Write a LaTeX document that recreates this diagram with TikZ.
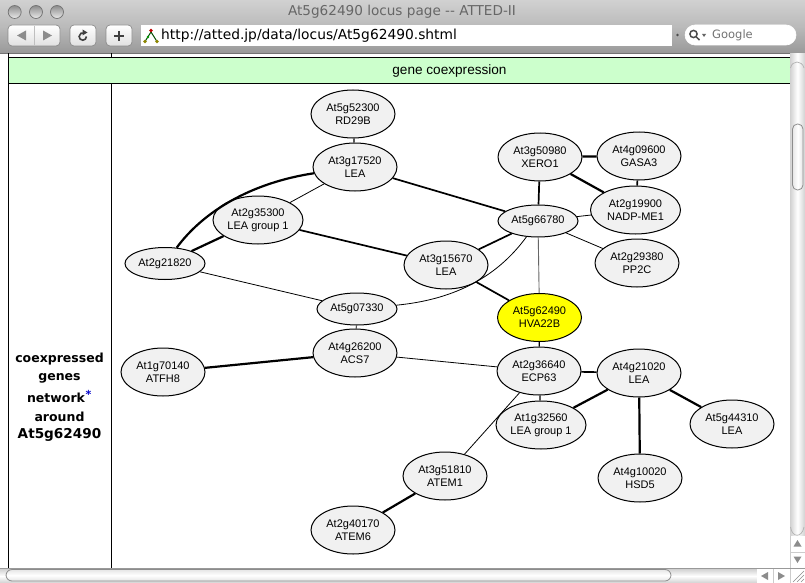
\documentclass[tikz,border=0pt]{standalone}
\usepackage{fontspec}
\setmainfont{Liberation Sans}
\newfontfamily\uifont{DejaVu Sans}
\usetikzlibrary{shapes.geometric,calc}
\definecolor{nodegray}{HTML}{F1F1F1}
\definecolor{hl}{HTML}{FFFF00}
\definecolor{greenrow}{HTML}{CCFFCC}
\tikzset{
  x=1pt,y=-1pt,
  gene/.style={ellipse,draw=black,line width=1pt,fill=nodegray,minimum width=84pt,minimum height=48pt,inner sep=0pt,align=center,font=\fontsize{11}{13}\selectfont},
  small/.style={gene,minimum width=80pt,minimum height=32pt},
  wide/.style={gene,minimum width=90pt},
  focus/.style={gene,fill=hl},
  e0/.style={line width=0.8pt},
  e1/.style={line width=1.2pt},
  e2/.style={line width=1.7pt},
  e3/.style={line width=2.2pt},
  tbl/.style={line width=1pt,draw=black},
  btn/.style={draw=black!45,line width=0.7pt,rounded corners=4pt,top color=white,bottom color=black!12},
  chromebar/.style={top color=black!18,bottom color=black!40,middle color=black!27},
  light/.style={circle,minimum size=13pt,inner sep=0pt,draw=black!55,line width=0.7pt,top color=black!45,bottom color=black!8},
  tri/.style={fill=black!45,draw=none},
  track/.style={left color=black!18,right color=black!18,middle color=white,draw=none},
  htrack/.style={top color=black!18,bottom color=black!18,middle color=white,draw=none},
  thumb/.style={draw=black!45,line width=0.8pt,rounded corners=5pt,left color=black!10,right color=black!10,middle color=white},
  hthumb/.style={draw=black!45,line width=0.8pt,rounded corners=6pt,top color=black!10,bottom color=black!10,middle color=white},
  lefttext/.style={font=\uifont\fontsize{12.5}{14}\selectfont\bfseries,inner sep=0pt}
}
\begin{document}
\begin{tikzpicture}
\useasboundingbox (0,0) rectangle (805,583);
\fill[white] (0,0) rectangle (805,583);
% window chrome
\path[chromebar] (0,0) rectangle (805,53);
\draw[black!55,line width=0.7pt] (0,53.3) -- (805,53.3);
\node[light] (l1) at (14.7,12) {};
\node[light] (l2) at (36,12) {};
\node[light] (l3) at (57,12) {};
\node[font=\uifont\fontsize{13.6}{15}\selectfont,text=black!60] (title) at (402,11.5) {At5g62490 locus page -- ATTED-II};
\path[btn] (8,25) rectangle (60,46);
\draw[black!25,line width=0.5pt] (34,26) -- (34,45);
\fill[tri] (17,35.5) -- (26,30.5) -- (26,40.5) -- cycle;
\fill[tri] (52,35.5) -- (43,30.5) -- (43,40.5) -- cycle;
\path[btn] (70,25) rectangle (96,46);
\draw[black!75,line width=1.6pt] (86.5,36.5) arc[start angle=0,end angle=290,radius=3.7];
\fill[black!75] (82.5,29.5) -- (87.5,32.5) -- (82.5,35.5) -- cycle;
\path[btn] (106,25) rectangle (132,46);
\draw[black!75,line width=1.7pt] (119,31) -- (119,41) (114,36) -- (124,36);
\fill[white] (141,25) rectangle (672,46);
\draw[black!70!green,line width=1pt] (145,41.5) -- (151,32) -- (157,41.5);
\fill[red!75!black] (151,30.5) circle[radius=1.8];
\fill[green!60!black] (148,37) circle[radius=1.4];
\fill[olive] (145,41.5) circle[radius=1.8];
\fill[olive] (157,41.5) circle[radius=1.8];
\node[anchor=west,font=\uifont\fontsize{13.8}{15}\selectfont,inner sep=0pt] (url) at (161,36) {http://atted.jp/data/locus/At5g62490.shtml};
\fill[black!70] (677.5,35) circle[radius=1.3];
\draw[white,line width=0.6pt,fill=white,rounded corners=10pt] (685,25) rectangle (796,45);
\draw[black!70,line width=1.5pt] (693.5,34) circle[radius=3.6] (696,36.7) -- (699.5,40);
\fill[black!60] (702,34) -- (706,34) -- (704,37) -- cycle;
\node[anchor=west,font=\uifont\fontsize{11.5}{13}\selectfont,text=black!55,inner sep=0pt] (search) at (712,35.5) {Google};
% table
\fill[greenrow] (8,57.5) rectangle (790,83);
\draw[tbl] (8,53.5) -- (8,568) (111,53.5) -- (111,57.5) (111,83.5) -- (111,568);
\draw[tbl] (8,57.5) -- (790,57.5) (8,83.5) -- (790,83.5);
\node[font=\fontsize{13.6}{15}\selectfont] (head) at (449.5,71) {gene coexpression};
\node[lefttext] (t1) at (59.5,359.5) {coexpressed};
\node[lefttext] (t2) at (59.5,378) {genes};
\node[lefttext] (t3) at (56,398) {network};
\node[font=\uifont\fontsize{11}{12}\selectfont\bfseries,text=blue!80!black,inner sep=0pt] (star) at (88.5,394) {*};
\node[lefttext] (t4) at (59.5,416.5) {around};
\node[lefttext,font=\uifont\fontsize{13.6}{15}\selectfont\bfseries] (t5) at (59.5,434.5) {At5g62490};
% nodes
\node[gene] (rd) at (353,114) {At5g52300\\RD29B};
\node[gene] (lea1) at (355,167) {At3g17520\\LEA};
\node[wide] (lg1) at (258,220) {At2g35300\\LEA group 1};
\node[small] (n218) at (165,263.5) {At2g21820};
\node[gene] (lea2) at (446,265) {At3g15670\\LEA};
\node[small] (n507) at (357,309) {At5g07330};
\node[gene] (acs) at (355,353) {At4g26200\\ACS7};
\node[gene] (atfh) at (163,372) {At1g70140\\ATFH8};
\node[gene] (xero) at (540,157) {At3g50980\\XERO1};
\node[gene] (gasa) at (639,156) {At4g09600\\GASA3};
\node[wide] (nadp) at (635.5,210) {At2g19900\\NADP-ME1};
\node[small] (n566) at (538,221) {At5g66780};
\node[gene] (pp2c) at (637,263) {At2g29380\\PP2C};
\node[focus] (hva) at (539.5,317.5) {At5g62490\\HVA22B};
\node[gene] (ecp) at (539,371) {At2g36640\\ECP63};
\node[gene] (lea3) at (639,373) {At4g21020\\LEA};
\node[wide] (lg2) at (541,425) {At1g32560\\LEA group 1};
\node[gene] (lea4) at (732,424) {At5g44310\\LEA};
\node[gene] (hsd) at (640,478) {At4g10020\\HSD5};
\node[gene] (atem1) at (445,476) {At3g51810\\ATEM1};
\node[gene] (atem6) at (353,530) {At2g40170\\ATEM6};
% edges
\draw[e1] (rd) -- (lea1);
\draw[e0] (lea1) -- (lg1);
\draw[e2] (lea1) -- (n566);
\draw[e3] (n218) .. controls (203,212) and (250,183) .. (lea1);
\draw[e3] (lg1) -- (n218);
\draw[e2] (lg1) -- (lea2);
\draw[e0] (n218) -- (n507);
\draw[e0] (n507) -- (acs);
\draw[e0] (n507) .. controls (450,300) and (495,280) .. (n566);
\draw[e2] (lea2) -- (n566);
\draw[e2] (lea2) -- (hva);
\draw[line width=0.9pt,black!60] (n566) -- (hva);
\draw[e2] (xero) -- (n566);
\draw[e3] (xero) -- (gasa);
\draw[e3] (xero) -- (nadp);
\draw[e2] (gasa) -- (nadp);
\draw[e0] (n566) -- (nadp);
\draw[e0] (n566) -- (pp2c);
\draw[e1] (hva) -- (ecp);
\draw[e3] (acs) -- (atfh);
\draw[e0] (acs) -- (ecp);
\draw[e2] (ecp) -- (lea3);
\draw[e1] (ecp) -- (lg2);
\draw[e0] (ecp) -- (atem1);
\draw[e3] (lea3) -- (lg2);
\draw[e3] (lea3) -- (lea4);
\draw[e3] (lea3) -- (hsd);
\draw[e3] (atem1) -- (atem6);
% vertical scrollbar
\path[track] (790,54) rectangle (805,568);
\path[thumb] (792.5,124) rectangle (803,190);
\draw[black!30,line width=0.7pt] (790.5,68) .. controls (792,60) and (802,60) .. (804,68);
\draw[black!30,line width=0.7pt] (790.5,527) .. controls (792,538) and (802,538) .. (804,527);
\fill[white] (790,536) rectangle (805,568);
\draw[black!20,line width=0.5pt] (790,552) -- (805,552) (790,536) -- (790,568);
\fill[tri] (797.5,540) -- (793.5,546.5) -- (801.5,546.5) -- cycle;
\fill[tri] (797.5,563) -- (793.5,556.5) -- (801.5,556.5) -- cycle;
% horizontal scrollbar
\path[htrack] (0,569) rectangle (790,583);
\path[hthumb] (6,569.5) rectangle (671,581);
\fill[white] (757,569) rectangle (790,583);
\draw[black!20,line width=0.5pt] (773.5,569) -- (773.5,583) (790,569) -- (790,583);
\fill[tri] (761,576) -- (768,572) -- (768,580) -- cycle;
\fill[tri] (785,576) -- (778,572) -- (778,580) -- cycle;
\draw[black!40,line width=0.5pt] (0,568.5) -- (805,568.5);
\draw[black!45,line width=0.6pt] (793,582) -- (804,571) (797,582) -- (804,575) (801,582) -- (804,579);
\end{tikzpicture}
\end{document}
